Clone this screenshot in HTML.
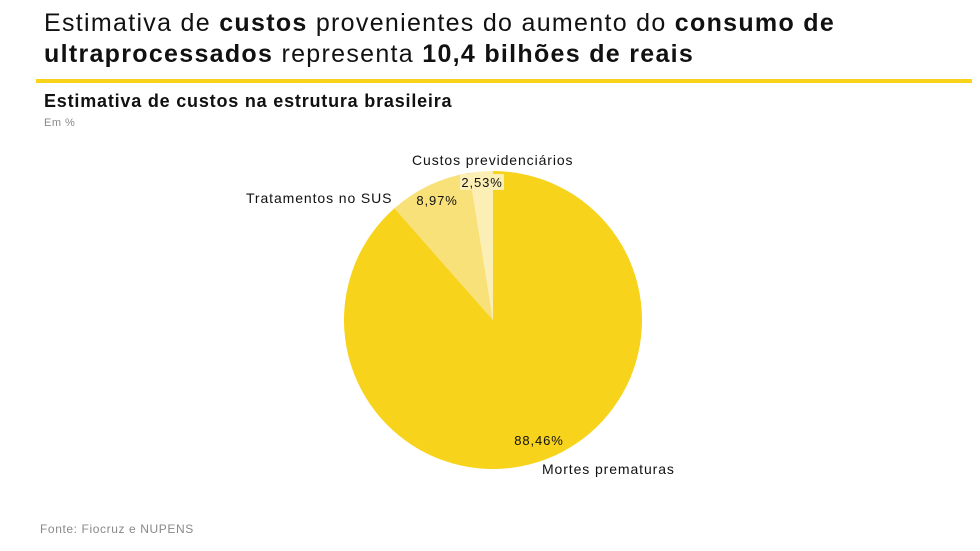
<!DOCTYPE html>
<html><head><meta charset="utf-8">
<style>
body{margin:0;width:980px;height:551px;background:#fff;font-family:"Liberation Sans",sans-serif;position:relative;overflow:hidden;color:#111}
.t{position:absolute;left:44px;top:8px;font-size:25px;line-height:31px;color:#111;letter-spacing:1.3px;white-space:nowrap}
.rule{position:absolute;left:36px;top:79px;width:936px;height:4px;background:#f7d31c}
.st{position:absolute;left:44px;top:91px;font-size:18px;font-weight:bold;letter-spacing:0.8px}
.un{position:absolute;left:44px;top:117px;font-size:11px;color:#888;letter-spacing:0.5px}
.src{position:absolute;left:40px;top:522px;font-size:12px;color:#888;letter-spacing:0.6px}
svg{position:absolute;left:0;top:0}
svg text{letter-spacing:0.9px}
</style></head><body>
<div class="t">Estimativa de <b>custos</b> provenientes do aumento do <b>consumo de</b><br><b>ultraprocessados</b> representa <b>10,4 bilhões de reais</b></div>
<div class="rule"></div>
<div class="st">Estimativa de custos na estrutura brasileira</div>
<div class="un">Em %</div>
<svg id="c" width="980" height="551"></svg>
<div class="src">Fonte: Fiocruz e NUPENS</div>
<script>
const categories=["Mortes prematuras","Tratamentos no SUS","Custos previdenciários"];
const values=[88.46,8.97,2.53];
const valueLabels=["88,46%","8,97%","2,53%"];
const colors=["#f7d31c","#f9e17a","#fcefb6"];
const cx=493,cy=320,r=149,NS="http://www.w3.org/2000/svg";
const svg=document.getElementById('c');
const total=values.reduce((a,b)=>a+b,0);
function pt(a,rr){return [cx+rr*Math.sin(a),cy-rr*Math.cos(a)];}
let a0=0;
values.forEach((v,i)=>{
  const a1=a0+v/total*2*Math.PI;
  const [x0,y0]=pt(a0,r),[x1,y1]=pt(a1,r);
  const p=document.createElementNS(NS,'path');
  p.setAttribute('d',`M${cx},${cy}L${x0},${y0}A${r},${r} 0 ${a1-a0>Math.PI?1:0} 1 ${x1},${y1}Z`);
  p.setAttribute('fill',colors[i]);
  
  
  svg.appendChild(p);
  const vr=i==0?[539,445]:i==1?[437,205]:[482,187];
  if(i==2){const bg=document.createElementNS(NS,'rect');bg.setAttribute('x',vr[0]-22);bg.setAttribute('y',vr[1]-13);bg.setAttribute('width',44);bg.setAttribute('height',16);bg.setAttribute('fill','#fcefb6');
  
  
  svg.appendChild(bg);}
  const t=document.createElementNS(NS,'text');
  t.setAttribute('x',vr[0]);t.setAttribute('y',vr[1]);t.setAttribute('text-anchor','middle');t.setAttribute('font-size','13');t.setAttribute('fill','#111');
  t.textContent=valueLabels[i];
  
  
  svg.appendChild(t);
  const c=document.createElementNS(NS,'text');
  const cp=i==0?[542,474]:i==1?[246,203]:[412,165];
  c.setAttribute('x',cp[0]);c.setAttribute('y',cp[1]);c.setAttribute('font-size','14');c.setAttribute('fill','#111');
  c.textContent=categories[i];
  
  
  svg.appendChild(c);
  a0=a1;
});
</script>
</body></html>
